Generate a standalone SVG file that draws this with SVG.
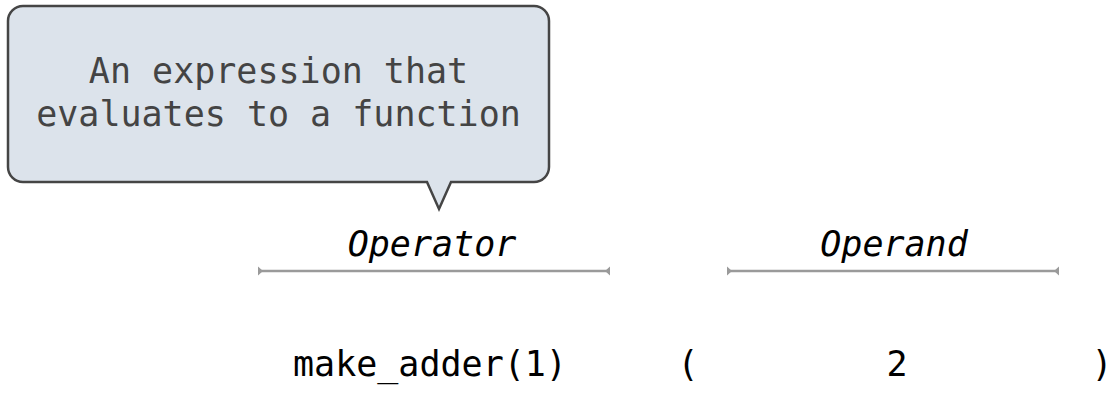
<svg xmlns="http://www.w3.org/2000/svg" width="1113" height="411" viewBox="0 0 1113 411">
<style>
.mono{font-family:"DejaVu Sans Mono","Liberation Mono",monospace;font-size:35px}
.callout{fill:#dce3eb;stroke:#454545;stroke-width:2.5}
.ctext{fill:#444444;text-anchor:middle}
.label{fill:#000;font-style:italic;text-anchor:middle}
.code{fill:#000}
.bracket{stroke:#9a9a9a;stroke-width:2.5;fill:none;marker-start:url(#tick);marker-end:url(#tick)}
</style>
<defs>
<marker id="tick" markerUnits="userSpaceOnUse" markerWidth="12" markerHeight="12" viewBox="-6 -6 12 12" refX="0" refY="0" orient="auto-start-reverse" overflow="visible">
<path d="M0,-4.5 L-5,0 L0,4.5 Z" fill="#9a9a9a"/>
</marker>
</defs>
<g id="callout">
<path class="callout" d="M23,6 H534 A15,15 0 0 1 549,21 V167 A15,15 0 0 1 534,182 H451 L439,209 L427,182 H23 A15,15 0 0 1 8,167 V21 A15,15 0 0 1 23,6 Z"/>
<text class="mono ctext" x="278.5" y="83">An expression that</text>
<text class="mono ctext" x="278.5" y="126">evaluates to a function</text>
</g>
<g id="operator">
<text class="mono label" x="432" y="256">Operator</text>
</g>
<g id="operand">
<text class="mono label" x="894" y="256">Operand</text>
</g>
<g id="connectors">
<line class="bracket" x1="258" y1="271" x2="610" y2="271"/>
<line class="bracket" x1="727" y1="271" x2="1059" y2="271"/>
</g>
<g id="expression">
<text class="mono code" x="293" y="376">make_adder(1)</text>
<text class="mono code" x="688" y="376" text-anchor="middle">(</text>
<text class="mono code" x="897" y="376" text-anchor="middle">2</text>
<text class="mono code" x="1102" y="376" text-anchor="middle">)</text>
</g>
</svg>
